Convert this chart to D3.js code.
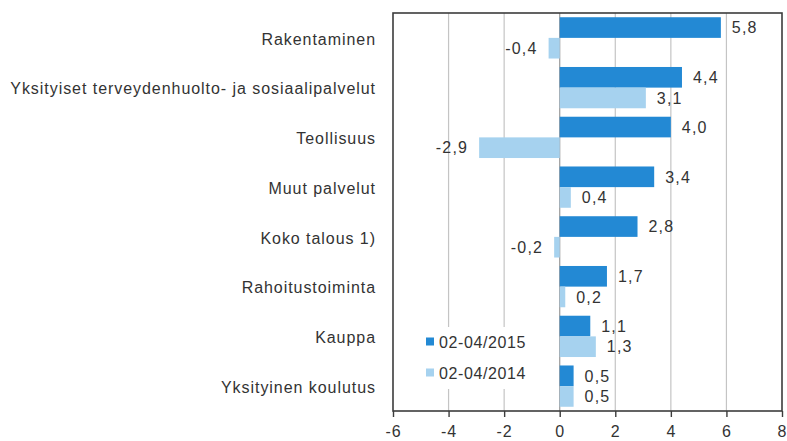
<!DOCTYPE html>
<html><head><meta charset="utf-8">
<script src="https://cdn.jsdelivr.net/npm/d3@7"></script>
<style>body{margin:0;background:#fff}svg{display:block;font-family:"Liberation Sans",Arial,sans-serif}</style>
</head><body><svg id="c" width="787" height="441"></svg>
<script>
const categories = ["Rakentaminen","Yksityiset terveydenhuolto- ja sosiaalipalvelut","Teollisuus","Muut palvelut","Koko talous 1)","Rahoitustoiminta","Kauppa","Yksityinen koulutus"];
const series2015 = [5.8,4.4,4.0,3.4,2.8,1.7,1.1,0.5];
const series2014 = [-0.4,3.1,-2.9,0.4,-0.2,0.2,1.3,0.5];
const seriesNames = ["02-04/2015","02-04/2014"];
const xTicks = [-6,-4,-2,0,2,4,6,8];
const colors = ["#2389d4","#a6d2ef"];

const svg = d3.select("#c");
const L=393,R=782,T=13,B=411;
const x = d3.scaleLinear().domain([-6,8]).range([L,R]);
const y = d3.scaleBand().domain(categories).range([T,B]).paddingInner(0.17).paddingOuter(0.085);
const sub = d3.scaleBand().domain([0,1]).range([0,y.bandwidth()]);
const fmt = v => d3.format(".1f")(v).replace(".",",").replace("−","-");

// grid
svg.append("g").selectAll("line").data(xTicks.filter(t=>t!==-6&&t!==8)).join("line")
  .attr("x1",d=>x(d)).attr("x2",d=>x(d)).attr("y1",T).attr("y2",B)
  .attr("stroke",d=>d===0?"#9a9a9a":"#c4c4c4").attr("stroke-width",1.2);

// legend background (covers gridlines)
const lg = svg.append("g");
lg.append("rect").attr("x",L+3).attr("y",327).attr("width",140).attr("height",62).attr("fill","#fff");

// bars
const data = [series2015, series2014];
data.forEach((s,si)=>{
  svg.append("g").selectAll("rect").data(s).join("rect")
    .attr("x",d=>x(Math.min(0,d))).attr("width",d=>Math.abs(x(d)-x(0)))
    .attr("y",(d,i)=>y(categories[i])+sub(si)).attr("height",sub.bandwidth())
    .attr("fill",colors[si]);
  svg.append("g").selectAll("text").data(s).join("text")
    .attr("x",d=>d<0?x(d)-11:x(d)+11)
    .attr("y",(d,i)=>y(categories[i])+sub(si)+sub.bandwidth()/2)
    .attr("dy","0.36em").attr("text-anchor",d=>d<0?"end":"start")
    .attr("font-size",16).attr("letter-spacing",1.2).attr("fill","#333").text(fmt);
});

// frame
svg.append("rect").attr("x",L).attr("y",T).attr("width",R-L).attr("height",B-T)
  .attr("fill","none").attr("stroke","#3c3c3c").attr("stroke-width",1.6);

// x axis
const ax = svg.append("g").attr("transform",`translate(0,${B})`)
  .call(d3.axisBottom(x).tickValues(xTicks).tickSize(6).tickFormat(d=>String(d)));
ax.select(".domain").remove();
ax.selectAll("line").attr("stroke","#3c3c3c").attr("stroke-width",1.4);
ax.selectAll("text").attr("font-size",16).attr("letter-spacing",1).attr("fill","#333").attr("dy","1.05em")
  .attr("font-family","'Liberation Sans',Arial,sans-serif");

// category labels
svg.append("g").selectAll("text").data(categories).join("text")
  .attr("x",376).attr("y",d=>y(d)+y.bandwidth()/2+1).attr("dy","0.36em")
  .attr("text-anchor","end").attr("font-size",16).attr("letter-spacing",0.95)
  .attr("fill","#333").text(d=>d);

// legend
seriesNames.forEach((n,i)=>{
  const yy = 342 + i*31;
  lg.append("rect").attr("x",426).attr("y",yy-4.5).attr("width",8).attr("height",8).attr("fill",colors[i]);
  lg.append("text").attr("x",439).attr("y",yy).attr("dy","0.36em").attr("font-size",16).attr("letter-spacing",0.6)
    .attr("fill","#333").text(n);
});
</script></body></html>
